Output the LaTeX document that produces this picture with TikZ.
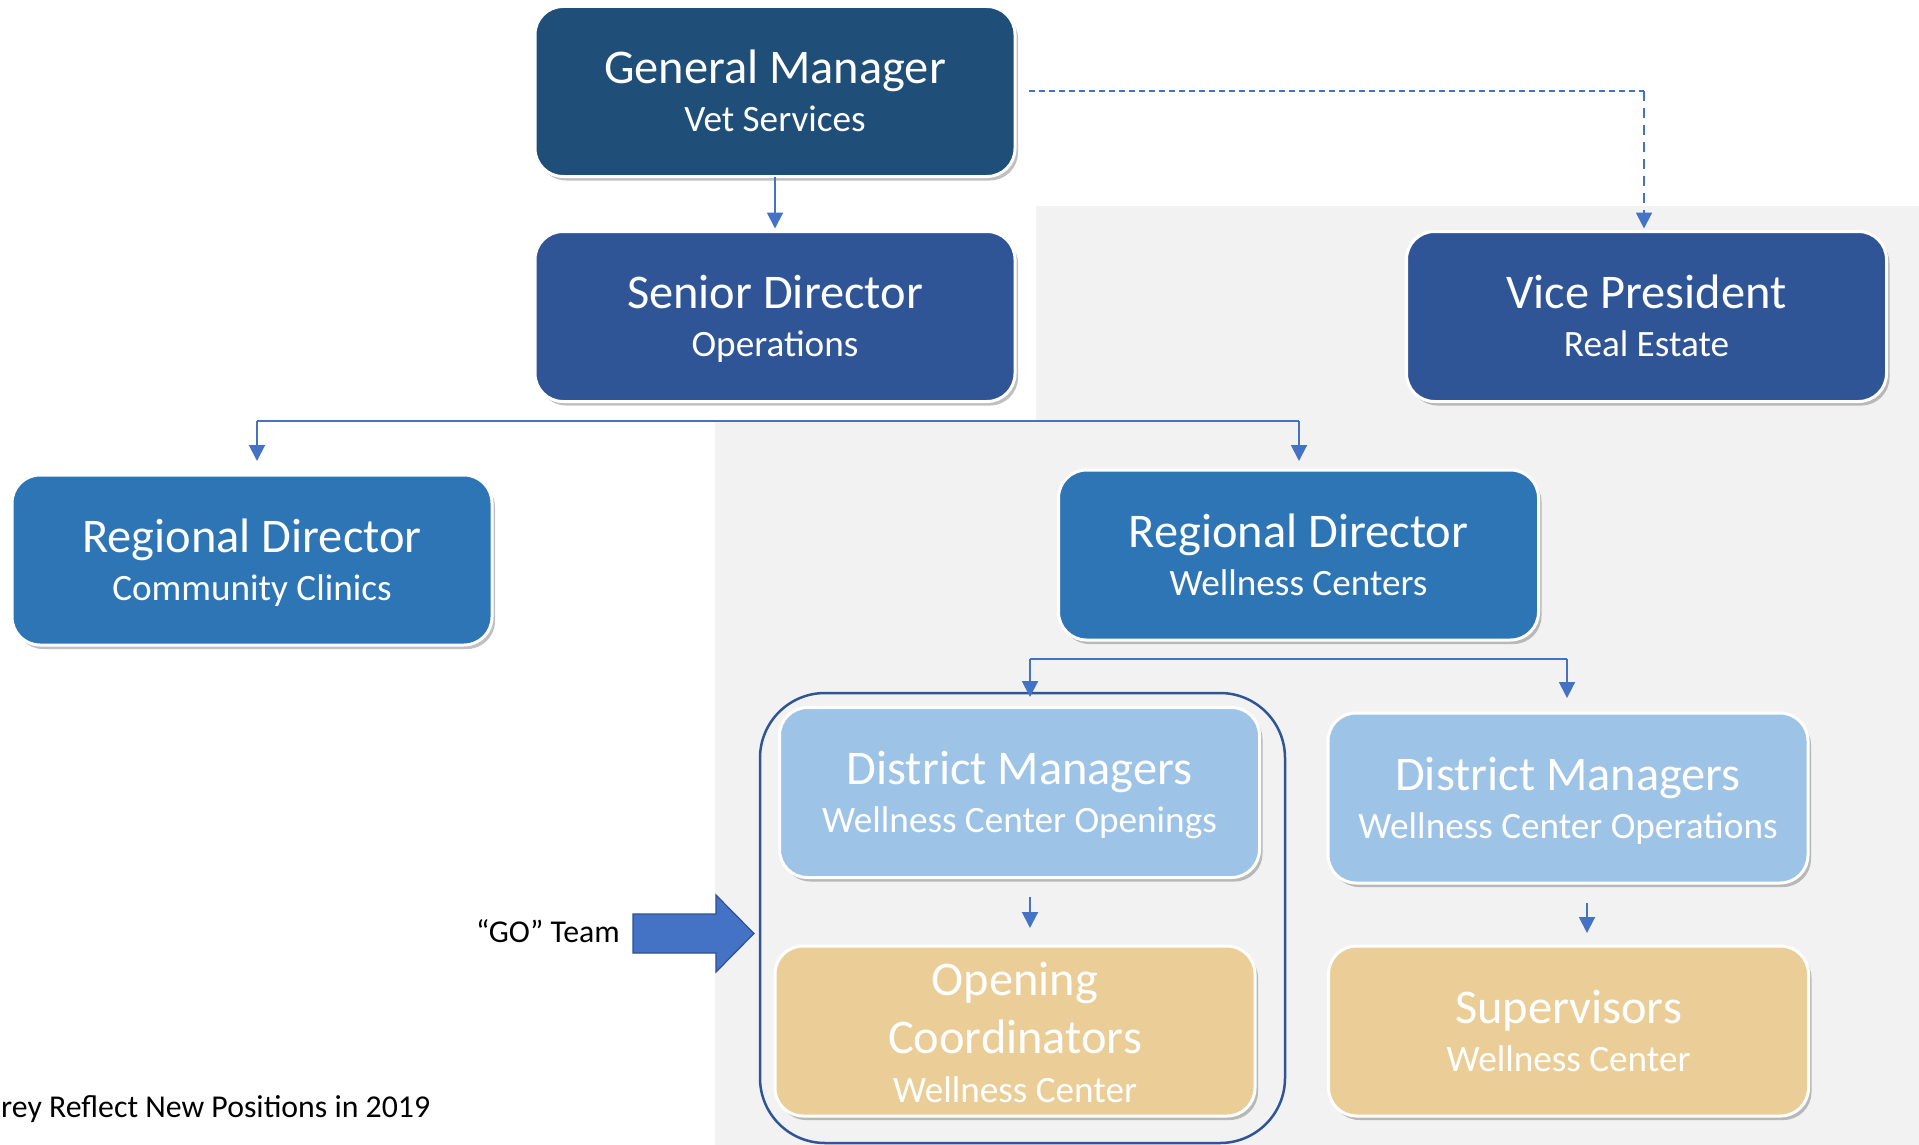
\documentclass[tikz,border=0pt]{standalone}
\usepackage{fontspec}
\setmainfont{Carlito}
\usetikzlibrary{arrows.meta,shadows,calc}
\definecolor{gmblue}{HTML}{1F4E79}
\definecolor{sdblue}{HTML}{2F5597}
\definecolor{rdblue}{HTML}{2E75B6}
\definecolor{dmblue}{HTML}{9DC3E6}
\definecolor{octan}{HTML}{EBCE97}
\definecolor{bggrey}{HTML}{F2F2F2}
\definecolor{lineblue}{HTML}{4472C4}
\definecolor{arrowedge}{HTML}{2F528F}
\newcommand\orgbox[6]{%
  \node[orgnode, fill=#4] (#1) at (#2,#3) {};
  \node[ttl, anchor=base] (#1t) at ($(#1.center)+(0,-8)$) {#5};
  \node[subt, anchor=base] (#1s) at ($(#1.center)+(0,40)$) {#6};
}
\begin{document}
\begin{tikzpicture}[x=1pt,y=-1pt,
  orgnode/.style={rectangle, rounded corners=28pt, draw=white, line width=3pt,
    minimum width=480pt, minimum height=170pt, inner sep=0pt, outer sep=0pt,
    drop shadow={shadow xshift=3pt, shadow yshift=-4pt, opacity=0.35, fill=black!70}},
  ttl/.style={inner sep=0pt, text=white, font=\fontsize{48.4}{58}\selectfont},
  subt/.style={inner sep=0pt, text=white, font=\fontsize{37.2}{44}\selectfont},
  small/.style={inner sep=0pt, text=black, font=\fontsize{31.8}{38}\selectfont},
  conn/.style={draw=lineblue, line width=2pt},
  arr/.style={conn, -{Triangle[width=16pt,length=16pt]}},
  dashconn/.style={draw=lineblue, line width=1.5pt}
]
\useasboundingbox (0,0) rectangle (1919,1145);
\fill[white] (0,0) rectangle (1919,1145);
% grey region
\fill[bggrey] (1036,206) -- (1919,206) -- (1919,1145) -- (715,1145) -- (715,421) -- (1036,421) -- cycle;
% GO team frame
\node[draw=sdblue, line width=2.5pt, rounded corners=65pt, minimum width=525pt,
  minimum height=450pt, inner sep=0pt, outer sep=0pt] (goframe) at (1022.5,918) {};
% boxes
\orgbox{gm}{775}{91.5}{gmblue}{General Manager}{Vet Services}
\orgbox{sd}{775}{316.5}{sdblue}{Senior Director}{Operations}
\orgbox{vp}{1646.5}{316.5}{sdblue}{Vice President}{Real Estate}
\orgbox{rdc}{252}{560}{rdblue}{Regional Director}{Community Clinics}
\orgbox{rdw}{1298.5}{555}{rdblue}{Regional Director}{Wellness Centers}
\orgbox{dmo}{1019.5}{792.5}{dmblue}{District Managers}{Wellness Center Openings}
\orgbox{dmp}{1568}{798}{dmblue}{District Managers}{Wellness Center Operations}
\node[orgnode, fill=octan] (oc) at (1015,1031) {};
\node[ttl, anchor=base] (oct1) at ($(oc.center)+(0,-36)$) {Opening};
\node[ttl, anchor=base] (oct2) at ($(oc.center)+(0,22)$) {Coordinators};
\node[subt, anchor=base] (ocs) at ($(oc.center)+(0,71)$) {Wellness Center};
\orgbox{sup}{1568.5}{1031}{octan}{Supervisors}{Wellness Center}
% connector coordinates
\coordinate (dashA) at (1029,91);
\coordinate (dashC) at (1644,91);
\coordinate (busA) at (257,421);
\coordinate (busB) at (1299,421);
\coordinate (busC) at (1030,659);
\coordinate (busD) at (1567,659);
\coordinate (supx) at (1587,0);
% connectors
\draw[arr, shorten >=3pt] (gm.south) -- (sd.north);
\draw[dashconn, dash pattern=on 6pt off 4pt] (dashA) -- (dashC);
\draw[dashconn, line width=2pt, dash pattern=on 10pt off 7pt, -{Triangle[width=16pt,length=16pt]}, shorten >=3pt] (dashC) -- (dashC |- vp.north);
\draw[conn] (busA) -- (busB);
\draw[arr, shorten >=14pt] (busA) -- (busA |- rdc.north);
\draw[arr, shorten >=9pt] (busB) -- (busB |- rdw.north);
\draw[conn] (busC) -- (busD);
\draw[arr, shorten >=10.5pt] (busC) -- (busC |- dmo.north);
\draw[arr, shorten >=15pt] (busD) -- (busD |- dmp.north);
\draw[arr, shorten <=19.5pt, shorten >=18pt] (dmo.south -| busC) -- (oc.north -| busC);
\draw[arr, shorten <=20pt, shorten >=13pt] (dmp.south -| supx) -- (sup.north -| supx);
% GO block arrow
\draw[fill=lineblue, draw=arrowedge, line width=1.2pt] (633,914) -- (716,914) -- (716,895) -- (754,933.5) -- (716,972) -- (716,953) -- (633,953) -- cycle;
\node[small, anchor=base east] (goT) at (620,942) {“GO” Team};
\node[small, anchor=base west] (note) at (1,1117) {rey Reflect New Positions in 2019};
\end{tikzpicture}
\end{document}
